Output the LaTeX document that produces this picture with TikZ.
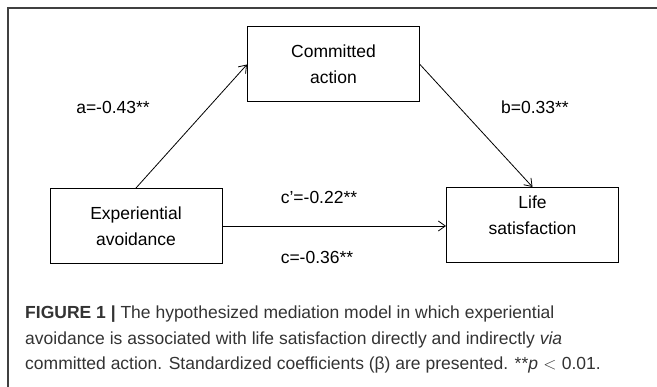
\documentclass[tikz,border=0pt]{standalone}
\usepackage{fontspec}
\setmainfont{Liberation Sans}
\usetikzlibrary{arrows.meta}

\begin{document}
\begin{tikzpicture}[x=1pt, y=-1pt,
        box/.style={draw, rectangle, align=center, line width=1pt, minimum height=75pt, minimum width=172pt},
        coef/.style={inner sep=0pt},
        path/.style={->, line width=0.8pt},
        >={Straight Barb[length=7pt, width=10pt]},
        font=\fontsize{17.5}{26}\selectfont]
        \useasboundingbox (0,0) rectangle (657,387);

        % Draw frame
        \draw[line width=1.6pt, black!75] (657,8) -- (8,8) -- (8,387);

        % Draw boxes
        \node[box] (action) at (333.5,64.5) {Committed \\ action};
        \node[box] (avoid) at (136,226) {Experiential \\ avoidance};
        \node[box, label={[align=center, yshift=10pt]center:Life \\ satisfaction}] (life) at (532.5,225) {};

        % Draw arrows
        \draw[path] (avoid.north) -- (action.west);
        \draw[path] (action.east) -- (life.north);
        \draw[path] (avoid.east) -- (life.west |- avoid.east);

        % Coefficients
        \node[coef] (acoef) at (113,107) {a=-0.43**};
        \node[coef] (bcoef) at (535,107) {b=0.33**};
        \node[coef] (cpcoef) at (319,197) {c’=-0.22**};
        \node[coef] (ccoef) at (317,257) {c=-0.36**};

        % Caption
        \node[anchor=north west, inner sep=0pt, align=left, text=black!80, font=\fontsize{17.5}{25.5}\selectfont] (caption) at (25,306) {\textbf{FIGURE 1 |} The hypothesized mediation model in which experiential \\ avoidance is associated with life satisfaction directly and indirectly \textit{via} \\ committed action. Standardized coefficients (β) are presented. **\textit{p}\hspace{0.3em}$<$\hspace{0.3em}0.01.};
    \end{tikzpicture}
\end{document}
